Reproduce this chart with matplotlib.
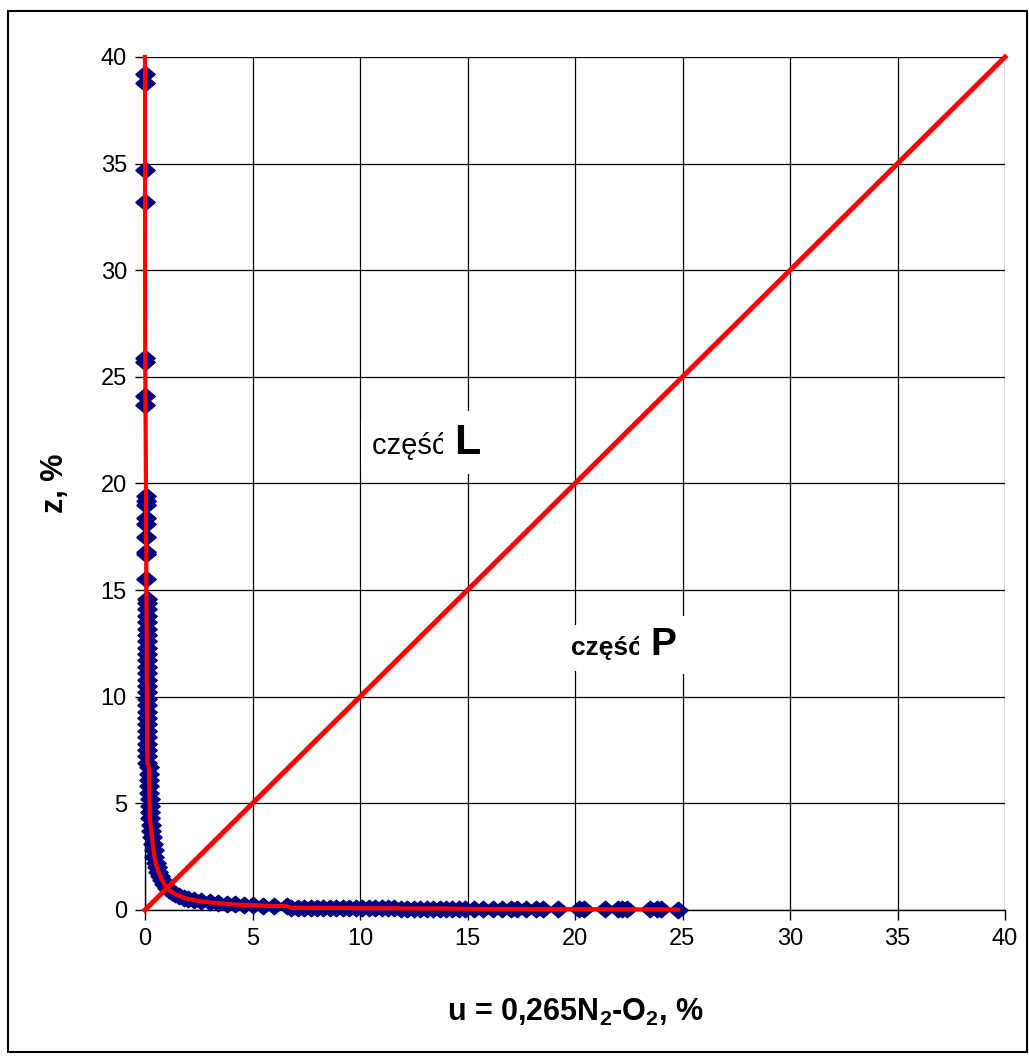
import matplotlib.pyplot as plt
from matplotlib.patches import Rectangle

plt.rcParams['font.family'] = ['Liberation Sans', 'DejaVu Sans']

# Data: u = 0,265N2-O2 [%], z [%]
u_pts = [0.00, 0.00, 0.00, 0.00, 0.01, 0.01, 0.02, 0.02,
         0.05, 0.05, 0.05, 0.05, 0.05, 0.05, 0.06, 0.06, 0.06,
         0.07, 0.07, 0.07, 0.07, 0.07, 0.07, 0.08, 0.08, 0.08, 0.08,
         0.08, 0.08, 0.08, 0.08, 0.09, 0.09, 0.09, 0.09, 0.09, 0.09,
         0.10, 0.10, 0.10, 0.10, 0.10, 0.11, 0.11,
         0.18, 0.19, 0.19, 0.20, 0.20, 0.21, 0.22, 0.22, 0.23,
         0.26, 0.30, 0.33, 0.36, 0.40, 0.44, 0.50, 0.56, 0.62, 0.70,
         0.80, 0.90, 1.00, 1.10, 1.25, 1.40, 1.60, 1.80, 2.00, 2.30,
         2.60, 3.00, 3.40, 3.80, 4.20, 4.60, 5.00, 5.50, 6.00, 6.60,
         6.80, 7.10, 7.40, 7.70, 8.00, 8.30, 8.60, 8.90, 9.20, 9.50,
         9.80, 10.1, 10.4, 10.7, 11.0, 11.3, 11.6, 11.9, 12.2, 12.5,
         12.8, 13.1, 13.4, 13.7, 14.0, 14.3, 14.6, 14.9,
         15.3, 15.7, 16.2, 16.6, 17.0, 17.3, 17.7, 18.2, 18.5,
         19.2, 20.2, 20.4, 21.4, 22.0, 22.2, 22.4, 23.5, 23.8, 24.0, 24.8]
z_pts = [39.2, 38.8, 34.7, 33.2, 25.9, 25.7, 24.1, 23.7,
         19.4, 19.2, 19.0, 18.4, 18.1, 17.5, 16.8, 16.7, 15.5,
         14.6, 14.4, 14.1, 13.8, 13.5, 13.2, 12.9, 12.6, 12.3, 12.0,
         11.7, 11.4, 11.1, 10.8, 10.5, 10.2, 9.9, 9.6, 9.3, 9.0,
         8.7, 8.4, 8.1, 7.8, 7.5, 7.2, 6.9,
         6.7, 6.4, 6.1, 5.8, 5.5, 5.2, 4.9, 4.6, 4.3,
         4.0, 3.7, 3.4, 3.1, 2.8, 2.5, 2.2, 2.0, 1.8, 1.6,
         1.4, 1.2, 1.05, 0.95, 0.85, 0.75, 0.66, 0.58, 0.52, 0.46,
         0.41, 0.36, 0.32, 0.29, 0.26, 0.24, 0.22, 0.20, 0.19, 0.18,
         0.10, 0.10, 0.10, 0.10, 0.09, 0.09, 0.09, 0.09, 0.09, 0.09,
         0.08, 0.08, 0.08, 0.08, 0.08, 0.08, 0.08, 0.07, 0.07, 0.07,
         0.07, 0.07, 0.07, 0.07, 0.07, 0.06, 0.06, 0.06,
         0.05, 0.05, 0.05, 0.05, 0.05, 0.05, 0.04, 0.04, 0.04,
         0.04, 0.04, 0.04, 0.03, 0.03, 0.03, 0.03, 0.03, 0.03, 0.03, 0.02]

# red curve follows the points and runs on to the top of the plot
curve_u = [0.00] + u_pts
curve_z = [40.0] + z_pts

diag_u = [0, 40]
diag_z = [0, 40]

ticks = [0, 5, 10, 15, 20, 25, 30, 35, 40]

fig = plt.figure(figsize=(10.29, 10.57), dpi=100)
ax = fig.add_axes([145 / 1029, 1 - 910 / 1057, 860 / 1029, 853 / 1057])

diamond = [(-1, 0), (0, 0.85), (1, 0), (0, -0.85), (-1, 0)]
ax.plot(u_pts, z_pts, linestyle='none', marker=diamond, markersize=14,
        color='#000080', clip_on=False, zorder=3)
ax.plot(curve_u, curve_z, color='red', linewidth=3, zorder=4, clip_on=False)
ax.plot(diag_u, diag_z, color='red', linewidth=3.6, zorder=4, clip_on=False)

ax.set_xlim(0, 40)
ax.set_ylim(0, 40)
ax.set_xticks(ticks)
ax.set_yticks(ticks)
ax.tick_params(direction='out', length=7, width=1, labelsize=17, pad=6)
ax.grid(True, color='black', linewidth=0.9)
ax.set_axisbelow(True)
for s in ax.spines.values():
    s.set_linewidth(1)
ax.spines['top'].set_visible(False)
ax.spines['right'].set_visible(False)

ax.set_xlabel('u = 0,265N$_\\mathregular{2}$-O$_\\mathregular{2}$, %', fontsize=22,
              fontweight='bold', labelpad=34)
ax.set_ylabel('z, %', fontsize=22, fontweight='bold', labelpad=22)

box = dict(facecolor='white', edgecolor='none', pad=8)
ax.text(14.4, 21.4, 'część ', fontsize=21, ha='right', va='baseline',
        bbox=box, zorder=5)
ax.text(14.4, 21.4, 'L', fontsize=31, fontweight='bold', ha='left',
        va='baseline', bbox=box, zorder=5)
ax.text(23.5, 11.95, 'część ', fontsize=19, fontweight='bold', ha='right',
        va='baseline', bbox=box, zorder=5)
ax.text(23.5, 11.95, 'P', fontsize=28, fontweight='bold', ha='left',
        va='baseline', bbox=box, zorder=5)

fig.patches.append(Rectangle((8 / 1029, 5 / 1057), 1019 / 1029, 1041 / 1057,
                             transform=fig.transFigure, fill=False,
                             edgecolor='black', linewidth=1.5))

fig.savefig('out.png', dpi=100)
